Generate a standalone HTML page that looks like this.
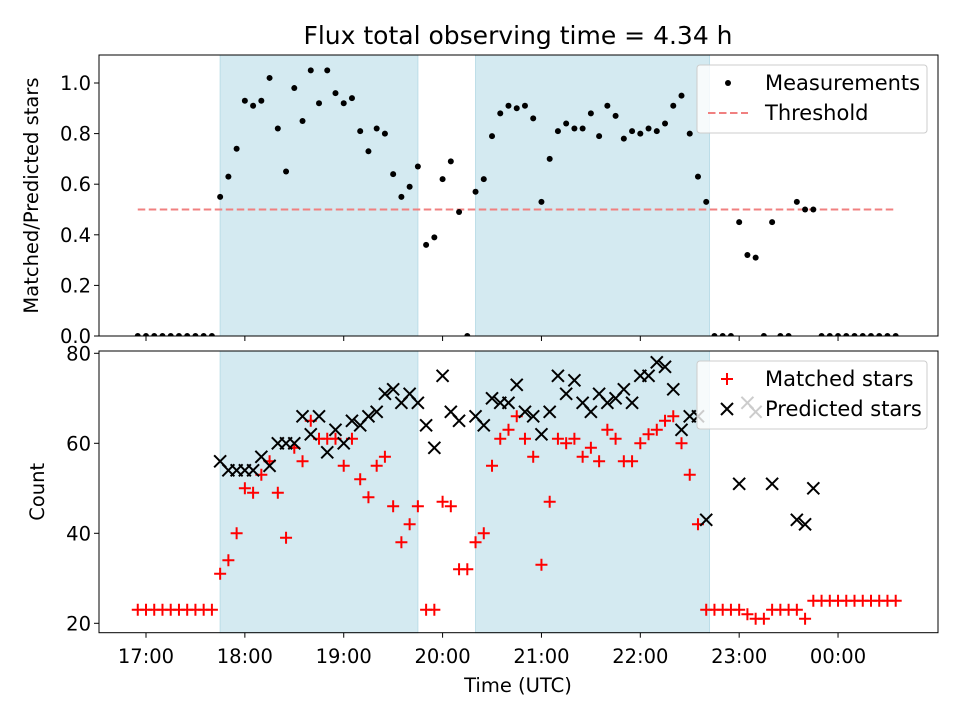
<!DOCTYPE html>
<html><head><meta charset="utf-8"><style>
html,body{margin:0;padding:0;background:#fff;}
svg{display:block;font-family:"DejaVu Sans","Liberation Sans",sans-serif;}
</style></head><body>
<svg id="chart" width="960" height="720" viewBox="0 0 960 720">
<text x="518" y="44" font-size="25" text-anchor="middle">Flux total observing time = 4.34 h</text>
<g id="topPanelG"></g>
<g id="botPanelG"></g>
</svg>
<script>
// minutes since 17:00 of each sample
const times = Array.from({length:93},(_,i)=>-5+5*i);
const ratio = [0,0,0,0,0,0,0,0,0,0,
0.55,0.63,0.74,0.93,0.91,0.93,1.02,0.82,0.65,0.98,0.85,1.05,0.92,1.05,0.96,0.92,0.94,0.81,0.73,0.82,0.80,0.64,0.55,0.59,0.67,0.36,0.39,0.62,0.69,0.49,
0,0.57,0.62,0.79,0.88,0.91,0.90,0.91,0.86,0.53,0.70,0.81,0.84,0.82,0.82,0.88,0.79,0.91,0.87,0.78,0.81,0.80,0.82,0.81,0.84,0.91,0.95,0.80,0.63,0.53,
0,0,0,0.45,0.32,0.31,0,0.45,0,0,0.53,0.50,0.50,0,0,0,0,0,0,0,0,0,0];
const matched = [23,23,23,23,23,23,23,23,23,23,
31,34,40,50,49,53,56,49,39,59,56,65,61,61,61,55,61,52,48,55,57,46,38,42,46,23,23,47,46,32,
32,38,40,55,61,63,66,61,57,33,47,61,60,61,57,59,56,63,61,56,56,60,62,63,65,66,60,53,42,23,
23,23,23,23,22,21,21,23,23,23,23,21,25,25,25,25,25,25,25,25,25,25,25];
const predicted = [null,null,null,null,null,null,null,null,null,null,
56,54,54,54,54,57,55,60,60,60,66,62,66,58,63,60,65,64,66,67,71,72,69,71,69,64,59,75,67,65,
null,66,64,70,69,69,73,67,66,62,67,75,71,74,69,67,71,69,70,72,69,75,75,78,77,72,63,66,66,43,
null,null,null,51,69,67,null,51,null,null,43,42,50,null,null,null,null,null,null,null,null,null,null];
const xTicks = [0,60,120,180,240,300,360,420];
const xTickLabels = ["17:00","18:00","19:00","20:00","21:00","22:00","23:00","00:00"];
const topTicks = [0,0.2,0.4,0.6,0.8,1.0];
const topTickLabels = ["0.0","0.2","0.4","0.6","0.8","1.0"];
const botTicks = [20,40,60,80];
const spans = [[45,165],[200,342]];
const threshold = 0.5;

const NS="http://www.w3.org/2000/svg";
const L=99,R=938;
const FS=19.5;
const xs = t => 146 + t*1.6477;
const yTop = v => 336 - v*253;
const yBot = v => 623.3 - (v-20)*4.5;
function mk(parent,tag,attrs,txt){const e=document.createElementNS(NS,tag);for(const k in attrs)e.setAttribute(k,attrs[k]);if(txt!==undefined)e.textContent=txt;parent.appendChild(e);return e;}

function panel(g,y0,y1,ys,ticks,labels,yTitle,titleX){
  const clipId='c'+Math.round(y0);
  const cp=mk(g,'clipPath',{id:clipId});mk(cp,'rect',{x:L,y:y0,width:R-L,height:y1-y0});
  spans.forEach(s=>{
    const r=mk(g,'rect',{x:xs(s[0]),y:y0,width:xs(s[1])-xs(s[0]),height:y1-y0,fill:'#d4eaf1',stroke:'#bcdde8','stroke-width':1});
    
    
  });
  ticks.forEach((v,i)=>{
    const y=ys(v);
    mk(g,'line',{x1:L-5,x2:L,y1:y,y2:y,stroke:'#000','stroke-width':1});
    const t=mk(g,'text',{x:L-8,y:y+7,'font-size':FS,'text-anchor':'end'},labels?labels[i]:String(v));
    
    
  });
  xTicks.forEach((v,i)=>{
    mk(g,'line',{x1:xs(v),x2:xs(v),y1:y1,y2:y1+5,stroke:'#000','stroke-width':1});
  });
  const yt=mk(g,'text',{x:0,y:0,'font-size':FS,'text-anchor':'middle',transform:`translate(${titleX},${(y0+y1)/2}) rotate(-90)`},yTitle);
  
  
  return clipId;
}

const topPanel=document.getElementById('topPanelG');
const c1=panel(topPanel,55,336,yTop,topTicks,topTickLabels,'Matched/Predicted stars',38);
const m1=mk(topPanel,'g',{'clip-path':`url(#${c1})`});
const th=mk(m1,'line',{x1:xs(times[0]),x2:xs(times[times.length-1]),y1:yTop(threshold),y2:yTop(threshold),stroke:'#f08080','stroke-width':2,'stroke-dasharray':'7.5,3.5'});


times.forEach((t,i)=>{
  const c=mk(m1,'circle',{cx:xs(t),cy:yTop(ratio[i]),r:3,fill:'#000'});
  
  
});
mk(topPanel,'rect',{x:L,y:55,width:R-L,height:281,fill:'none',stroke:'#000','stroke-width':1});

const botPanel=document.getElementById('botPanelG');
const c2=panel(botPanel,351,632.7,yBot,botTicks,null,'Count',44);
const m2=mk(botPanel,'g',{'clip-path':`url(#${c2})`});
function plus(g,x,y,col){mk(g,'path',{d:`M${x-6},${y}H${x+6}M${x},${y-6}V${y+6}`,stroke:col,'stroke-width':2});}
function cross(g,x,y,col){mk(g,'path',{d:`M${x-6},${y-6}L${x+6},${y+6}M${x-6},${y+6}L${x+6},${y-6}`,stroke:col,'stroke-width':2});}
times.forEach((t,i)=>{
  const g=mk(m2,'g',{});
  
  
  plus(g,xs(t),yBot(matched[i]),'#ff0000');
});
times.forEach((t,i)=>{
  if(predicted[i]===null)return;
  const g=mk(m2,'g',{});
  
  
  cross(g,xs(t),yBot(predicted[i]),'#000');
});
mk(botPanel,'rect',{x:L,y:351,width:R-L,height:281.7,fill:'none',stroke:'#000','stroke-width':1});
xTicks.forEach((v,i)=>{
  const t=mk(botPanel,'text',{x:xs(v),y:663,'font-size':FS,'text-anchor':'middle'},xTickLabels[i]);
  
  
});
const xt=mk(botPanel,'text',{x:518,y:692,'font-size':FS,'text-anchor':'middle'},'Time (UTC)');



// legends
function legend(y,items,name){
  const g=mk(document.getElementById('chart'),'g',{});
  
  
  mk(g,'rect',{x:697,y:y,width:230,height:68,rx:3,fill:'rgba(255,255,255,0.8)',stroke:'#ccc','stroke-width':1});
  items.forEach((it,k)=>{
    const cy=y+18+k*30;
    it.draw(g,727,cy);
    const t=mk(g,'text',{x:765,y:cy+7,'font-size':21},it.label);
    
    
  });
}
legend(65,[{label:'Measurements',draw:(g,x,y)=>mk(g,'circle',{cx:x+1,cy:y,r:3,fill:'#000'})},
  {label:'Threshold',draw:(g,x,y)=>mk(g,'line',{x1:x-19,x2:x+21,y1:y,y2:y,stroke:'#f08080','stroke-width':2,'stroke-dasharray':'7.5,3.5'})}],'top-legend');
legend(361,[{label:'Matched stars',draw:(g,x,y)=>plus(g,x,y,'#ff0000')},
  {label:'Predicted stars',draw:(g,x,y)=>cross(g,x,y,'#000')}],'bottom-legend');
</script>
</body></html>
